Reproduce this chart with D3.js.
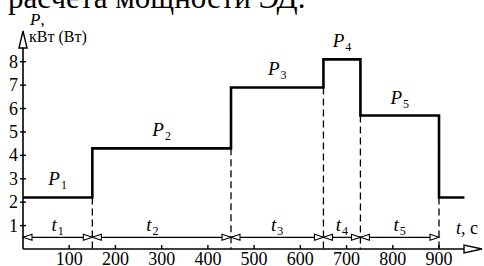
<!DOCTYPE html>
<html><head><meta charset="utf-8">
<script src="https://cdn.jsdelivr.net/npm/d3@7"></script>
</head>
<body style="margin:0;background:#fff"><svg id="chart" width="484" height="266" style="display:block"></svg>
<script>
// ---- data ----
const caption = "расчета мощности ЭД.";
const boundaries = [0, 150, 450, 650, 730, 900];     // t, c
const powers = [2.2, 4.3, 6.9, 8.1, 5.7];             // P1..P5, кВт
const tailEnd = 955;
const tailPower = 2.2;
const xTicks = [100, 200, 300, 400, 500, 600, 700, 800, 900];
const yTicks = [1, 2, 3, 4, 5, 6, 7, 8];
const subs = ["1", "2", "3", "4", "5"];
const tLabelX = [75, 280, 550, 690, 815];
const dimLevel = 0.5;

// ---- drawing ----
const SERIF = "Liberation Serif";
const svg = d3.select("#chart");
const x = d3.scaleLinear().domain([0, 900]).range([23, 439]);
const y = d3.scaleLinear().domain([0, 8]).range([249, 61.7]);
const x0 = x(0), y0 = y(0);
function addText(px, py, size) {
  return svg.append("text").attr("x", px).attr("y", py).attr("font-size", size)
    .attr("font-family", SERIF).style("font-family", SERIF).attr("fill", "#000");
}

// caption (cut off by the top edge)
addText(8, 8, 31).text(caption);

// axes
svg.append("line").attr("x1", x0).attr("x2", x0).attr("y1", y0).attr("y2", 47)
  .attr("stroke", "#000").attr("stroke-width", 1.6);
svg.append("line").attr("x1", x0).attr("x2", 464).attr("y1", y0).attr("y2", y0)
  .attr("stroke", "#000").attr("stroke-width", 1.6);
svg.append("path").attr("d", `M${x0},31 L${x0 - 4},48 L${x0 + 4},48 Z`)
  .attr("fill", "#fff").attr("stroke", "#000").attr("stroke-width", 1.4);
svg.append("path").attr("d", `M482,${y0} L464,${y0 - 4} L464,${y0 + 4} Z`)
  .attr("fill", "#fff").attr("stroke", "#000").attr("stroke-width", 1.4);

// y ticks + labels
yTicks.forEach(v => {
  svg.append("line").attr("x1", x0 - 3).attr("x2", x0 + 3).attr("y1", y(v)).attr("y2", y(v))
    .attr("stroke", "#000").attr("stroke-width", 1.4);
  addText(18, y(v) + 6, 18).attr("text-anchor", "end").text(v);
});

// x ticks + labels
xTicks.forEach(v => {
  svg.append("line").attr("x1", x(v)).attr("x2", x(v)).attr("y1", y0).attr("y2", y0 - 4)
    .attr("stroke", "#000").attr("stroke-width", 1.4);
  addText(x(v), 265, 18).attr("text-anchor", "middle").text(v);
});

// axis titles
const yl = addText(30, 25, 17);
yl.append("tspan").attr("font-style", "italic").text("P");
yl.append("tspan").text(",");
addText(29, 42, 16).text("кВт (Вт)");
const xl = addText(456, 234, 18);
xl.append("tspan").attr("font-style", "italic").text("t");
xl.append("tspan").text(", c");

// dashed verticals at transitions
boundaries.slice(1).forEach((b, i) => {
  const after = i + 1 < powers.length ? powers[i + 1] : tailPower;
  const low = Math.min(powers[i], after);
  svg.append("line").attr("x1", x(b)).attr("x2", x(b)).attr("y1", y(low)).attr("y2", y0)
    .attr("stroke", "#000").attr("stroke-width", 1.3).attr("stroke-dasharray", "7,4");
});

// step line
const stepPts = [];
powers.forEach((p, i) => { stepPts.push([boundaries[i], p], [boundaries[i + 1], p]); });
stepPts.push([boundaries[boundaries.length - 1], tailPower], [tailEnd, tailPower]);
svg.append("path")
  .attr("d", d3.line().x(d => x(d[0])).y(d => y(d[1]))(stepPts))
  .attr("fill", "none").attr("stroke", "#000").attr("stroke-width", 2.6);

// P labels
powers.forEach((p, i) => {
  const t = addText(x((boundaries[i] + boundaries[i + 1]) / 2), y(p) - 12, 19).attr("text-anchor", "middle");
  t.append("tspan").attr("font-style", "italic").text("P");
  t.append("tspan").attr("font-size", 12).attr("dy", 4).attr("dx", 1).text(subs[i]);
});

// dimension line with hollow arrowheads
const dy = y(dimLevel);
svg.append("line").attr("x1", x0).attr("x2", x(900)).attr("y1", dy).attr("y2", dy)
  .attr("stroke", "#000").attr("stroke-width", 1.2);
for (let i = 0; i < boundaries.length - 1; i++) {
  [[x(boundaries[i]), 1], [x(boundaries[i + 1]), -1]].forEach(([tip, dir]) => {
    svg.append("path")
      .attr("d", `M${tip},${dy} L${tip + dir * 9},${dy - 3} L${tip + dir * 9},${dy + 3} Z`)
      .attr("fill", "#fff").attr("stroke", "#000").attr("stroke-width", 1.1);
  });
}

// t labels
tLabelX.forEach((tx, i) => {
  const t = addText(x(tx), 231, 19).attr("text-anchor", "middle");
  t.append("tspan").attr("font-style", "italic").text("t");
  t.append("tspan").attr("font-size", 12).attr("dy", 4).attr("dx", 1).text(subs[i]);
});
</script></body></html>
